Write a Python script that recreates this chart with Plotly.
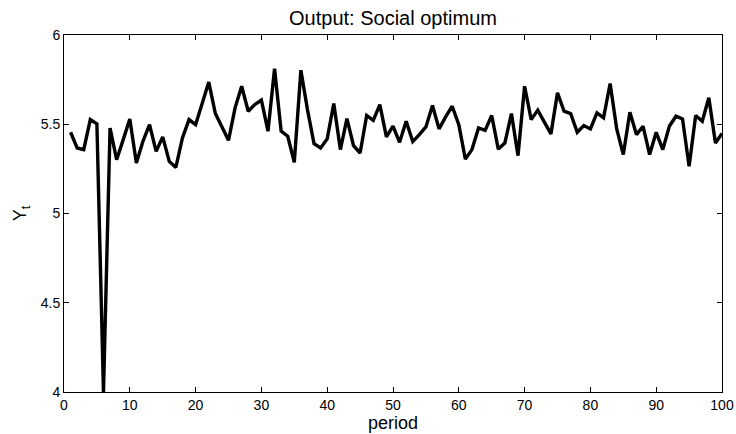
import plotly.graph_objects as go

period = list(range(1, 101))
output_y = [
    5.455, 5.367, 5.358, 5.526, 5.502, 4.00, 5.479, 5.301, 5.414, 5.530,
    5.283, 5.405, 5.498, 5.348, 5.429, 5.292, 5.258, 5.423, 5.526, 5.498,
    5.616, 5.736, 5.560, 5.489, 5.410, 5.592, 5.713, 5.573, 5.610, 5.635,
    5.461, 5.811, 5.461, 5.433, 5.287, 5.803, 5.582, 5.391, 5.367, 5.418,
    5.616, 5.358, 5.532, 5.380, 5.339, 5.549, 5.522, 5.610, 5.429, 5.489,
    5.399, 5.517, 5.403, 5.442, 5.485, 5.605, 5.474, 5.541, 5.601, 5.498,
    5.305, 5.358, 5.479, 5.466, 5.549, 5.361, 5.395, 5.560, 5.324, 5.713,
    5.526, 5.579, 5.517, 5.446, 5.676, 5.573, 5.560, 5.455, 5.493, 5.474,
    5.564, 5.536, 5.728, 5.474, 5.330, 5.567, 5.442, 5.489, 5.330, 5.455,
    5.358, 5.489, 5.545, 5.530, 5.264, 5.549, 5.517, 5.648, 5.395, 5.448,
]
x_ticks = list(range(0, 101, 10))
y_ticks = [4, 4.5, 5, 5.5, 6]
y_tick_text = ["4", "4.5", "5", "5.5", "6"]

fig = go.Figure()
fig.add_trace(go.Scatter(
    x=period, y=output_y, mode="lines",
    line=dict(color="black", width=3.4),
    hoverinfo="x+y", showlegend=False,
))

font = "Liberation Sans, Arial, sans-serif"
fig.update_layout(
    width=736, height=434,
    margin=dict(l=64, r=14, t=35, b=42, pad=0),
    paper_bgcolor="white", plot_bgcolor="white",
    font=dict(family=font, size=14, color="black"),
    title=dict(text="Output: Social optimum", x=0.5, xref="paper",
               y=1 - 18 / 434, yanchor="middle", xanchor="center",
               font=dict(size=20, family=font, color="black")),
    xaxis=dict(
        range=[0, 100], tickvals=x_ticks, ticks="inside", ticklen=5,
        tickcolor="black", tickwidth=1, automargin=False,
        showline=True, linecolor="black", linewidth=1, mirror="ticks",
        showgrid=False, zeroline=False,
        title=dict(text="period", standoff=0, font=dict(size=18)),
        tickfont=dict(size=14),
    ),
    yaxis=dict(
        range=[4, 6], tickvals=y_ticks, ticktext=y_tick_text,
        ticks="inside", ticklen=5,
        tickcolor="black", tickwidth=1, automargin=False,
        showline=True, linecolor="black", linewidth=1, mirror="ticks",
        showgrid=False, zeroline=False,
        title=dict(text="Y<sub>t</sub>", standoff=9, font=dict(size=18)),
        tickfont=dict(size=14),
    ),
)

fig.write_html("out.html")
